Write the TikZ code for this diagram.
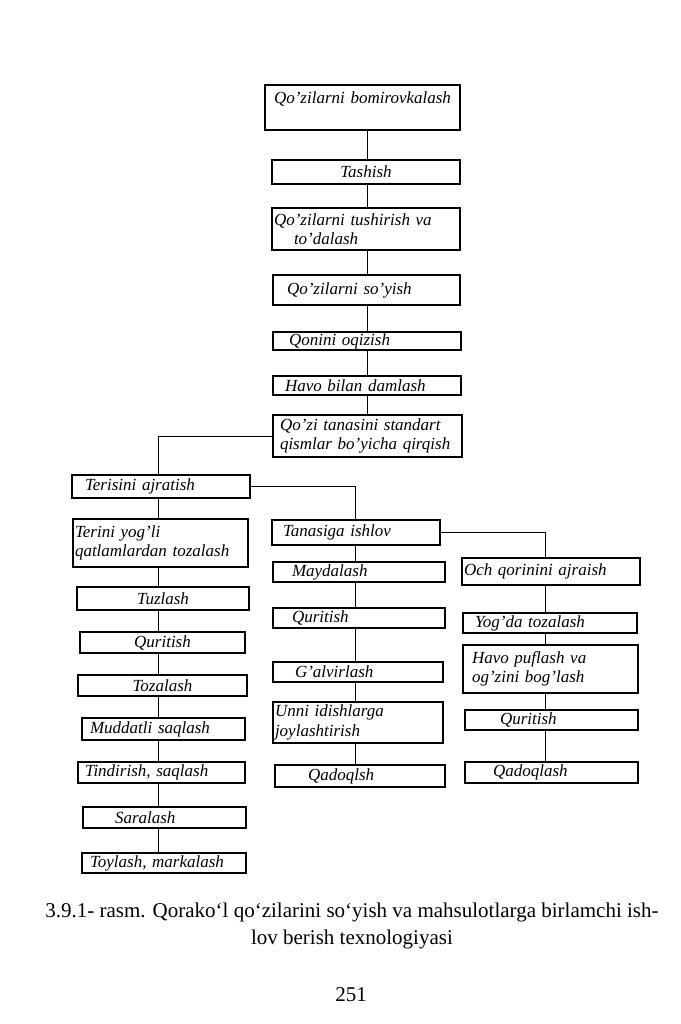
\documentclass[tikz,border=0pt]{standalone}
\usepackage{fontspec}
\setmainfont{Liberation Serif}

\begin{document}
\begin{tikzpicture}[x=1pt,y=-1pt,
  box/.style={draw,line width=1.3pt,inner xsep=2pt,inner ysep=1pt,align=left,
    font=\fontsize{17}{19.5}\selectfont\itshape},
  cbox/.style={box,align=center},
  ln/.style={line width=0.8pt}]
\useasboundingbox[fill=white] (0,0) rectangle (680,1024);
\coordinate (xT) at (367,0);
\coordinate (xL) at (158,0);
\coordinate (xM) at (355,0);
\coordinate (xR) at (545,0);
\node[cbox,text width=191pt,minimum height=45pt] (bomb) at (362.5,107.5) {Qo'zilarni bomirovkalash\\ \mbox{}};
\node[cbox,text width=184pt,minimum height=24pt] (tash) at (366,172) {Tashish};
\node[box,text width=184pt,minimum height=42pt] (tush) at (366,229) {Qo'zilarni tushirish va\\\hspace*{20pt}to'dalash};
\node[box,text width=183pt,minimum height=30pt] (soy) at (366.5,290) {\hspace*{12pt}Qo'zilarni so'yish};
\node[box,text width=184pt,minimum height=18pt] (qon) at (367,341) {\hspace*{14pt}Qonini oqizish};
\node[box,text width=184pt,minimum height=19pt] (havo) at (367,385.5) {\hspace*{10pt}Havo bilan damlash};
\node[box,text width=185pt,minimum height=42pt] (qirq) at (367.5,436) {\hspace*{5pt}Qo'zi tanasini standart\\\hspace*{5pt}qismlar bo'yicha qirqish};
\node[box,text width=174pt,minimum height=23pt] (teri) at (161,486.5) {\hspace*{11pt}Terisini ajratish};
\node[box,text width=171pt,minimum height=48pt] (yogli) at (160.5,543) {Terini yog'li\\qatlamlardan tozalash};
\node[cbox,text width=168pt,minimum height=23pt] (tuz) at (163,598.5) {Tuzlash};
\node[cbox,text width=161pt,minimum height=21pt] (qurL) at (162.5,642.5) {Quritish};
\node[cbox,text width=165pt,minimum height=21pt] (toz) at (162.5,685.5) {Tozalash};
\node[box,text width=159pt,minimum height=22pt] (mud) at (163.5,729) {\hspace*{6pt}Muddatli saqlash};
\node[box,text width=163pt,minimum height=21pt] (tind) at (161.5,772.5) {\hspace*{5pt}Tindirish, saqlash};
\node[box,text width=159pt,minimum height=21pt] (sar) at (164.5,817.5) {\hspace*{30pt}Saralash};
\node[box,text width=160pt,minimum height=20pt] (toy) at (164,863) {\hspace*{6pt}Toylash, markalash};
\node[box,text width=164pt,minimum height=25pt] (tan) at (356,532.5) {\hspace*{9pt}Tanasiga ishlov};
\node[box,text width=168pt,minimum height=20pt] (mayd) at (359,572) {\hspace*{17pt}Maydalash};
\node[box,text width=168pt,minimum height=20pt] (qurM) at (359,618) {\hspace*{17pt}Quritish};
\node[box,text width=166pt,minimum height=20pt] (galv) at (358,672) {\hspace*{20pt}G'alvirlash};
\node[box,text width=166pt,minimum height=41pt] (unni) at (358,722.5) {Unni idishlarga\\joylashtirish};
\node[box,text width=166pt,minimum height=22pt] (qadM) at (360,776) {\hspace*{31pt}Qadoqlsh};
\node[box,text width=174pt,minimum height=27pt] (och) at (551,571.5) {Och qorinini ajraish};
\node[box,text width=170pt,minimum height=20pt] (yogda) at (550,623) {\hspace*{10pt}Yog'da tozalash};
\node[box,text width=171pt,minimum height=48pt] (pufl) at (550.5,669) {\hspace*{7pt}Havo puflash va\\\hspace*{7pt}og'zini bog'lash};
\node[box,text width=169pt,minimum height=20pt] (qurR) at (551.5,720) {\hspace*{33pt}Quritish};
\node[box,text width=169pt,minimum height=21pt] (qadR) at (551.5,772.5) {\hspace*{26pt}Qadoqlash};
\foreach \a/\b in {bomb/tash,tash/tush,tush/soy,soy/qon,qon/havo,havo/qirq}
  \draw[ln] (\a.south -| xT) -- (\b.north -| xT);
\foreach \a/\b in {teri/yogli,yogli/tuz,tuz/qurL,qurL/toz,toz/mud,mud/tind,tind/sar,sar/toy}
  \draw[ln] (\a.south -| xL) -- (\b.north -| xL);
\foreach \a/\b in {tan/mayd,mayd/qurM,qurM/galv,galv/unni,unni/qadM}
  \draw[ln] (\a.south -| xM) -- (\b.north -| xM);
\foreach \a/\b in {och/yogda,yogda/pufl,pufl/qurR,qurR/qadR}
  \draw[ln] (\a.south -| xR) -- (\b.north -| xR);
\draw[ln] (qirq.west) -| (teri.north -| xL);
\draw[ln] (teri.east) -| (tan.north -| xM);
\draw[ln] (tan.east) -| (och.north -| xR);
\node[font=\fontsize{21}{27}\selectfont,align=center] (cap) at (352,926)
  {3.9.1- rasm. Qorako‘l qo‘zilarini so‘yish va mahsulotlarga birlamchi ish-\\lov berish texnologiyasi};
\node[font=\fontsize{21}{24}\selectfont] (pg) at (351,995) {251};
\end{tikzpicture}
\end{document}
